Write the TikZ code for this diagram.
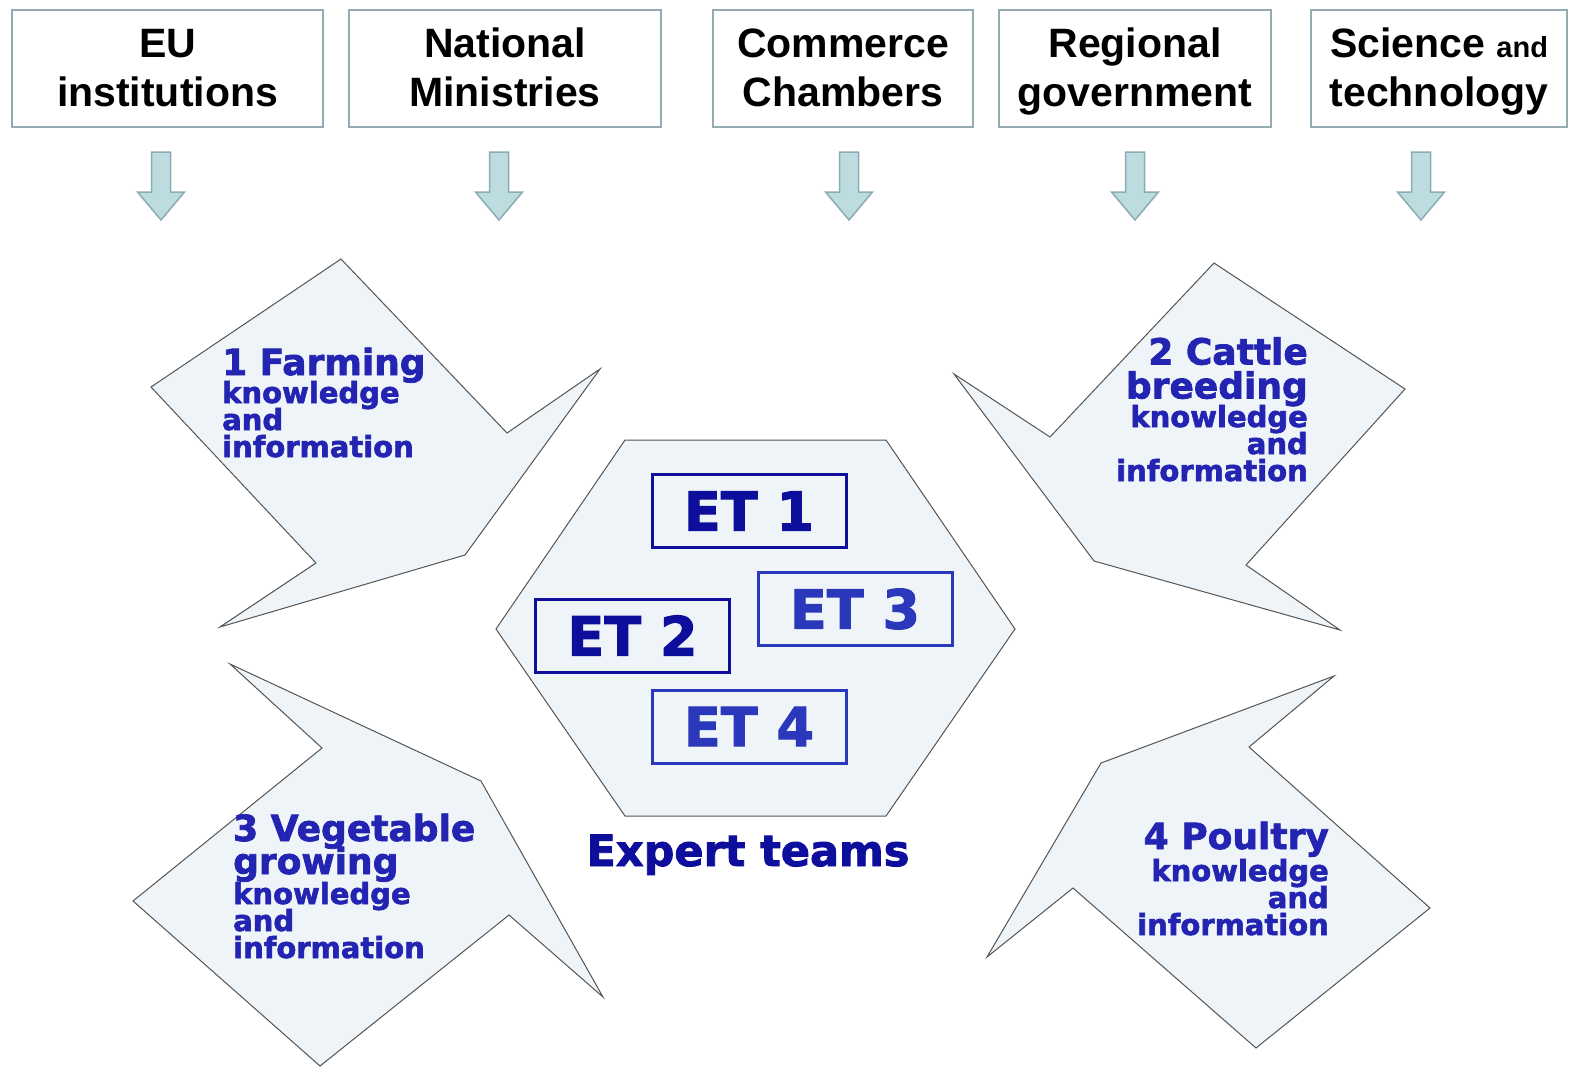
\documentclass[tikz,border=0pt]{standalone}
\usepackage{fontspec}
\setmainfont{Liberation Sans}
\newfontfamily\heavy{DejaVu Sans}[BoldFeatures={FakeBold=2}]
\definecolor{boxline}{RGB}{147,171,177}
\definecolor{arrowfill}{RGB}{188,220,224}
\definecolor{arrowline}{RGB}{138,172,180}
\definecolor{shapefill}{RGB}{238,244,247}
\definecolor{shapeline}{RGB}{85,85,85}
\definecolor{navy}{RGB}{14,14,156}
\definecolor{midblue}{RGB}{44,56,188}
\definecolor{labelblue}{RGB}{36,36,178}
\newcommand\bigline{\fontsize{36}{36}\selectfont}

\begin{document}
% fixed baseline distances, even where lines would touch
\lineskiplimit=-100pt
\lineskip=0pt
\begin{tikzpicture}[x=1pt,y=-1pt,
  topbox/.style={draw=boxline,line width=2pt,fill=white,minimum width=#1,
    minimum height=117pt,inner sep=0pt},
  toptext/.style={font=\fontsize{41}{49}\selectfont\bfseries,align=center,inner sep=0pt},
  blockarrow/.style={draw=arrowline,fill=arrowfill,line width=1.5pt,line join=miter},
  chevron/.style={draw=shapeline,fill=shapefill,line width=1pt,line join=miter},
  sector/.style={font=\heavy\bfseries\fontsize{29}{27}\selectfont,
    text=labelblue,inner sep=0pt},
  etbox/.style={draw=#1,line width=3pt,fill=shapefill,minimum width=194pt,minimum height=73pt,
    inner sep=0pt,font=\heavy\bfseries\fontsize{54}{54}\selectfont,text=#1},
  downarrow/.pic={\draw[blockarrow] (-9.5,0) -- (9.5,0) -- (9.5,40) -- (23.5,40)
    -- (0,68) -- (-23.5,40) -- (-9.5,40) -- cycle;}
]
\useasboundingbox[fill=white] (0,0) rectangle (1574,1069);

% sources of knowledge
\node[topbox=311pt] (eu)  at (167.5,68.5) {};
\node[topbox=312pt] (nat) at (505,68.5) {};
\node[topbox=260pt] (com) at (843,68.5) {};
\node[topbox=272pt] (reg) at (1135,68.5) {};
\node[topbox=256pt] (sci) at (1439,68.5) {};
\node[toptext] (eut)  at ([yshift=-4pt]eu.center)  {\strut EU\\\strut institutions};
\node[toptext] (natt) at ([yshift=-4pt]nat.center) {\strut National\\\strut Ministries};
\node[toptext] (comt) at ([yshift=-4pt]com.center) {\strut Commerce\\\strut Chambers};
\node[toptext] (regt) at ([yshift=-4pt]reg.center) {\strut Regional\\\strut government};
\node[toptext] (scit) at ([yshift=-4pt]sci.center) {\strut Science {\fontsize{29}{35}\selectfont and}\\\strut technology};

% arrows under the sources
\pic at (161,152) {downarrow};
\pic at (499,152) {downarrow};
\pic at (849,152) {downarrow};
\pic at (1135,152) {downarrow};
\pic at (1421,152) {downarrow};

% sector arrows
\draw[chevron] (341,259) -- (507,433) -- (600,369) -- (465,555) -- (220,627)
  -- (316,563) -- (151,387) -- cycle;
\draw[chevron] (1214,263) -- (1405,389) -- (1246,565) -- (1340,630) -- (1094,561)
  -- (954,374) -- (1050,437) -- cycle;
\draw[chevron] (230,664) -- (481,781) -- (603,997) -- (509,915) -- (320,1066)
  -- (133,901) -- (322,748) -- cycle;
\draw[chevron] (1334,676) -- (1249,747) -- (1430,908) -- (1256,1048) -- (1073,888)
  -- (987,957) -- (1101,763) -- cycle;

% sector labels, placed by the baseline of their last line
\node[sector,align=left,anchor=base west] (farm) at (222,457)
  {{\bigline 1 Farming}\\[1pt]knowledge\\and\\information};
\node[sector,align=right,anchor=base east] (cattle) at (1308,481)
  {{\bigline 2 Cattle}\\[7pt]{\bigline breeding}\\[1.5pt]knowledge\\and\\information};
\node[sector,align=left,anchor=base west] (veg) at (233,958)
  {{\bigline 3 Vegetable}\\[6pt]{\bigline growing}\\[3pt]knowledge\\and\\information};
\node[sector,align=right,anchor=base east] (poultry) at (1329,935)
  {{\bigline 4 Poultry}\\[5pt]knowledge\\and\\information};

% expert teams
\draw[chevron] (625,440) -- (886,440) -- (1015,629) -- (886,816) -- (625,816)
  -- (496,629) -- cycle;
\node[etbox=navy]    (et1) at (749,511)   {ET 1};
\node[etbox=midblue] (et3) at (855,609)   {ET 3};
\node[etbox=navy]    (et2) at (632.5,635.5) {ET 2};
\node[etbox=midblue] (et4) at (749,726.5) {ET 4};
\node[font=\heavy\bfseries\fontsize{43}{43}\selectfont,text=navy,inner sep=0pt,anchor=base]
  (teams) at (748,866) {Expert teams};
\end{tikzpicture}
\end{document}
